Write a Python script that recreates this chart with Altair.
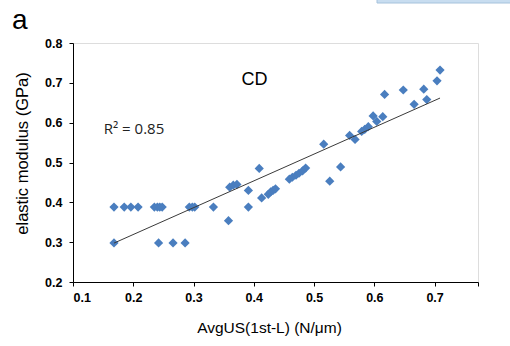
import altair as alt
import pandas as pd

# Data
avg_us = [0.168, 0.185, 0.196, 0.208, 0.235, 0.240, 0.244, 0.248, 0.293, 0.298,
          0.302, 0.333, 0.168, 0.242, 0.266, 0.286, 0.358, 0.360, 0.366, 0.372,
          0.391, 0.391, 0.409, 0.413, 0.424, 0.428, 0.432, 0.436, 0.459, 0.464,
          0.470, 0.475, 0.481, 0.486, 0.516, 0.526, 0.544, 0.559, 0.568, 0.579,
          0.584, 0.590, 0.598, 0.604, 0.614, 0.617, 0.648, 0.666, 0.682, 0.687,
          0.704, 0.709]
modulus = [0.388, 0.388, 0.388, 0.388, 0.388, 0.388, 0.388, 0.388, 0.388, 0.388,
           0.388, 0.388, 0.298, 0.298, 0.298, 0.298, 0.354, 0.438, 0.443, 0.445,
           0.430, 0.388, 0.485, 0.411, 0.420, 0.426, 0.430, 0.434, 0.458, 0.463,
           0.468, 0.473, 0.479, 0.486, 0.546, 0.453, 0.489, 0.568, 0.558, 0.578,
           0.583, 0.590, 0.617, 0.603, 0.615, 0.671, 0.682, 0.646, 0.684, 0.658,
           0.705, 0.732]

x_ticks = [0.1, 0.2, 0.3, 0.4, 0.5, 0.6, 0.7, 0.772]
y_ticks = [0.2, 0.3, 0.4, 0.5, 0.6, 0.7, 0.8]

df = pd.DataFrame({"x": avg_us, "y": modulus})

FONT = "Liberation Sans"

x_enc = alt.X(
    "x:Q",
    scale=alt.Scale(domain=[0.1, 0.772], nice=False, zero=False),
    axis=alt.Axis(
        values=x_ticks,
        labelExpr="datum.value > 0.75 ? '' : format(datum.value, '.1f')",
        labelOverlap=False,
        title="AvgUS(1st-L) (N/\u03bcm)",
        grid=False,
        domainColor="black",
        tickColor="black",
        tickSize=4,
        labelFont=FONT,
        labelFontSize=12.5,
        labelFontWeight="bold",
        labelColor="black",
        labelPadding=5,
        titleFont=FONT,
        titleFontSize=15.5,
        titleFontWeight="normal",
        titleColor="black",
        titleX=196,
        titleY=45,
        titleBaseline="middle",
        titleAnchor="start",
        titleAlign="center",
    ),
)
y_enc = alt.Y(
    "y:Q",
    scale=alt.Scale(domain=[0.2, 0.8], nice=False, zero=False),
    axis=alt.Axis(
        values=y_ticks,
        labelExpr="format(datum.value, '.1f')",
        labelOverlap=False,
        title="elastic modulus (GPa)",
        grid=False,
        domainColor="black",
        tickColor="black",
        tickSize=4,
        labelFont=FONT,
        labelFontSize=12.5,
        labelFontWeight="bold",
        labelColor="black",
        labelPadding=7,
        titleFont=FONT,
        titleFontSize=16.5,
        titleFontWeight="normal",
        titleColor="black",
        titleAngle=-90,
        titleX=-51,
        titleY=110,
        titleBaseline="middle",
        titleAlign="center",
    ),
)

base = alt.Chart(df)

points = base.mark_point(shape="diamond", filled=True, size=85, opacity=1,
                         color="#4a7ebf").encode(x=x_enc, y=y_enc)

trend = base.transform_regression("x", "y").mark_line(
    color="#3a3a3a", strokeWidth=1
).encode(x=x_enc, y=y_enc)

ann = pd.DataFrame({"x": [0.401], "y": [0.706], "t": ["CD"]})
cd = alt.Chart(ann).mark_text(font=FONT, fontSize=18, color="black",
                              align="center", baseline="middle").encode(
    x=x_enc, y=y_enc, text="t:N")

ann2 = pd.DataFrame({"x": [0.151], "y": [0.584], "t": ["R\u00b2 = 0.85"]})
r2 = alt.Chart(ann2).mark_text(font="Open Sans", fontSize=15, color="#222222",
                               align="left", baseline="middle").encode(
    x=x_enc, y=y_enc, text="t:N")

panel = alt.Chart(pd.DataFrame({"t": ["a"]})).mark_text(
    font=FONT, fontSize=28, color="black", align="left", baseline="middle"
).encode(x=alt.value(-61), y=alt.value(-22), text="t:N")

box = alt.Chart(pd.DataFrame({"k": [1]})).mark_rect(
    fill="#c8ddf0", stroke="#a6c2dc", strokeWidth=1
).encode(x=alt.value(304), x2=alt.value(440), y=alt.value(-48), y2=alt.value(-40))

chart = alt.layer(points, trend, cd, r2, panel, box).properties(
    width=405,
    height=239,
    autosize=alt.AutoSizeParams(type="none"),
    padding={"left": 73, "top": 43, "right": 32, "bottom": 64},
).configure_view(stroke=None).configure(background="white")

chart.save("out.html", embed_options={"renderer": "svg", "actions": False})
